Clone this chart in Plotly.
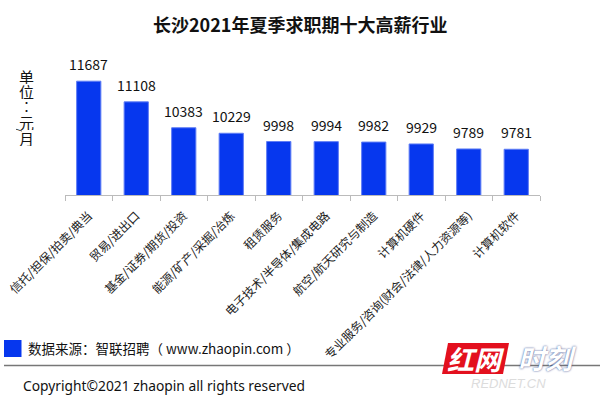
import plotly.graph_objects as go

# ---- data ----
categories = ["信托/担保/拍卖/典当", "贸易/进出口", "基金/证券/期货/投资", "能源/矿产/采掘/冶炼",
              "租赁服务", "电子技术/半导体/集成电路", "航空/航天研究与制造", "计算机硬件",
              "专业服务/咨询(财会/法律/人力资源等)", "计算机软件"]
salaries = [11687, 11108, 10383, 10229, 9998, 9994, 9982, 9929, 9789, 9781]
title_text = "长沙2021年夏季求职期十大高薪行业"
unit_chars = ["单", "位", "︰", "元", "月"]
source_text = "数据来源：智联招聘（ www.zhaopin.com ）"
copyright_text = "Copyright©2021 zhaopin all rights reserved"

W, H = 600, 395
ML, MR, MT, MB = 65, 60, 70, 200
PW, PH = W - ML - MR, H - MT - MB

def px(x):
    return (x - ML) / PW

def py(y):
    return (H - MB - y) / PH

BLUE = "#0637EE"
CJK = "Noto Sans CJK SC, Microsoft YaHei, sans-serif"

fig = go.Figure()
fig.add_trace(go.Bar(
    x=categories, y=salaries,
    marker=dict(color=BLUE, line=dict(color="#5f7df5", width=1)),
    width=0.51, hoverinfo="skip",
))

annotations = []
# value labels
for c, v in zip(categories, salaries):
    annotations.append(dict(x=c, y=v, xref="x", yref="y", text=str(v), showarrow=False,
                            yanchor="middle", yshift=17,
                            font=dict(family=CJK, size=14, color="#111")))
# title
annotations.append(dict(x=px(300), y=py(24), xref="paper", yref="paper", text="<b>" + title_text + "</b>",
                        showarrow=False, xanchor="center", yanchor="middle",
                        font=dict(family=CJK, size=18, color="#111")))
# vertical unit label
unit_y = [76, 91, 106, 122, 138]
for ch, yy in zip(unit_chars, unit_y):
    annotations.append(dict(x=px(26), y=py(yy), xref="paper", yref="paper", text=ch, showarrow=False,
                            xanchor="center", yanchor="middle", height=15, width=17,
                            font=dict(family=CJK, size=15, color="#111")))
annotations.append(dict(x=px(19), y=py(130), xref="paper", yref="paper", text="/", showarrow=False,
                        xanchor="center", yanchor="middle", textangle=90, height=6, width=8,
                        font=dict(family=CJK, size=10, color="#111")))
# source
annotations.append(dict(x=px(26), y=py(348.5), xref="paper", yref="paper", text=source_text,
                        showarrow=False, xanchor="left", yanchor="middle",
                        font=dict(family=CJK, size=13.5, color="#111")))
# copyright
annotations.append(dict(x=px(21), y=py(385), xref="paper", yref="paper", text=copyright_text,
                        showarrow=False, xanchor="left", yanchor="middle",
                        font=dict(family="Noto Sans, Open Sans, sans-serif", size=13.8, color="#111")))
# watermark
annotations.append(dict(x=px(476), y=py(358), xref="paper", yref="paper", text="<b><i>红网</i></b>",
                        showarrow=False, xanchor="center", yanchor="middle",
                        font=dict(family=CJK, size=27, color="white")))
annotations.append(dict(x=px(547), y=py(357), xref="paper", yref="paper", text="<b><i>时刻</i></b>",
                        showarrow=False, xanchor="center", yanchor="middle",
                        font=dict(family=CJK, size=27, color="white", shadow="0px 0px 2px #2a3f86")))
annotations.append(dict(x=px(508), y=py(383), xref="paper", yref="paper", text="<i>REDNET.CN</i>",
                        showarrow=False, xanchor="center", yanchor="middle",
                        font=dict(family="Liberation Sans, Arial, sans-serif", size=13, color="#dcdcdc")))

shapes = [
    # legend square
    dict(type="rect", xref="paper", yref="paper", x0=px(4), x1=px(21.5), y0=py(357), y1=py(340),
         fillcolor=BLUE, line=dict(width=0), layer="above"),
    # separator line
    dict(type="line", xref="paper", yref="paper", x0=px(4), x1=px(600), y0=py(365.5), y1=py(365.5),
         line=dict(color="#777", width=1.5), layer="above"),
    # red watermark box
    dict(type="path", xref="paper", yref="paper",
         path="M {} {} L {} {} L {} {} L {} {} Z".format(px(448), py(343), px(509), py(343),
                                                        px(503), py(374), px(442), py(374)),
         fillcolor="#e3101e", line=dict(width=0), layer="above"),
]

fig.update_layout(
    width=W, height=H,
    margin=dict(l=ML, r=MR, t=MT, b=MB, pad=0, autoexpand=False),
    paper_bgcolor="white", plot_bgcolor="white",
    showlegend=False,
    bargap=0.49,
    xaxis=dict(showline=True, linecolor="#bbbbbb", linewidth=1.2, ticks="outside", tickson="boundaries",
               ticklen=5, tickcolor="#bbbbbb", tickangle=-45, showgrid=False, automargin=False,
               ticklabelstandoff=8,
               tickfont=dict(family=CJK, size=12, color="#222"), fixedrange=True),
    yaxis=dict(range=[8500, 12000], visible=False, showgrid=False, fixedrange=True, automargin=False),
    annotations=annotations,
    shapes=shapes,
)

fig.write_html("out.html", config={"displayModeBar": False},
               post_script="document.body.style.margin='0';document.body.style.overflow='hidden';")
